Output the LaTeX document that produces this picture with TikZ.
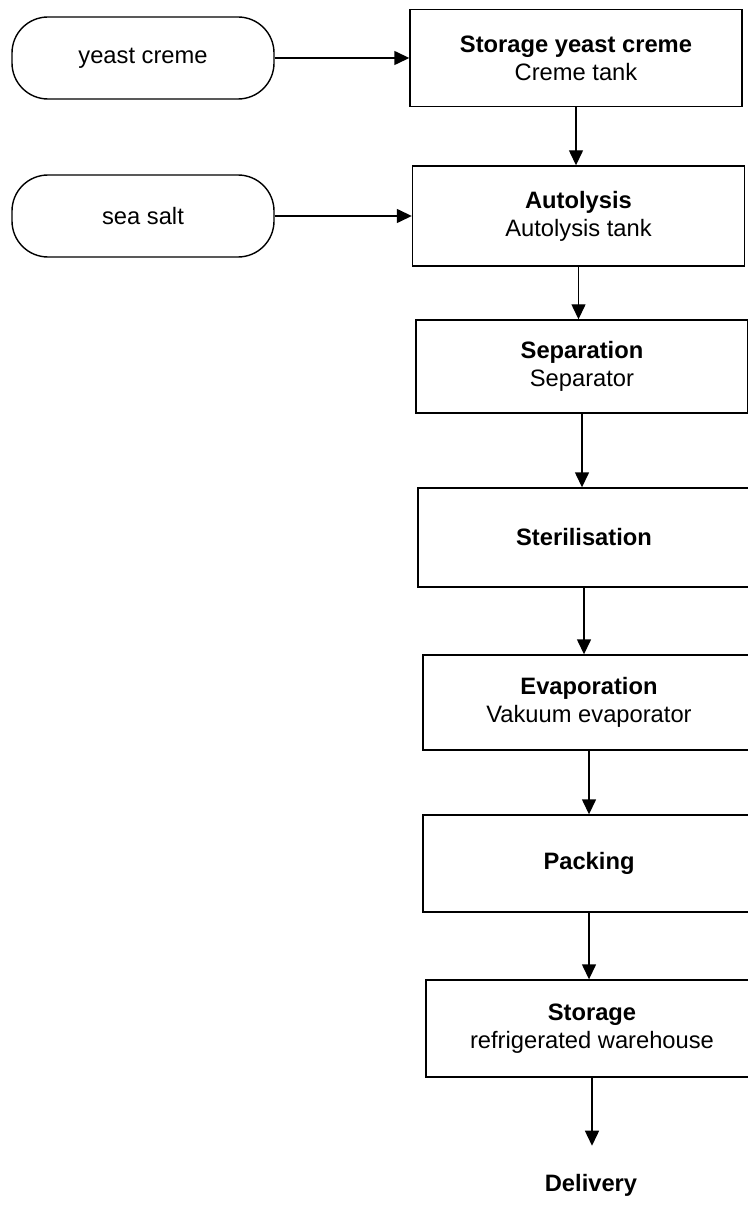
\documentclass[tikz,border=0pt]{standalone}
\usepackage{fontspec}
\setmainfont{Liberation Sans}
\usetikzlibrary{arrows.meta}

\begin{document}
\begin{tikzpicture}
  \clip (0,0) rectangle (14.96,-24.14);
  \tikzset{stepbox/.style={draw,line width=0.8pt,minimum width=6.64cm,minimum height=1.94cm,
                           align=center,font=\fontsize{13.5}{16}\selectfont},
           inpill/.style={draw,line width=0.8pt,rounded corners=0.72cm,minimum width=5.24cm,
                          minimum height=1.64cm,font=\fontsize{13.5}{16}\selectfont},
           flow/.style={line width=0.8pt,-{Triangle[length=0.3cm,width=0.28cm]}}}

 % raw materials
  \node[inpill] (creme) at (2.86,-1.16) {yeast creme};
  \node[inpill] (salt) at (2.86,-4.32) {sea salt};

 % process steps
  \node[stepbox] (storcreme) at (11.52,-1.16) {\textbf{Storage yeast creme}\\Creme tank};
  \node[stepbox,minimum height=2.0cm] (autolysis) at (11.57,-4.32) {\textbf{Autolysis}\\Autolysis tank};
  \node[stepbox,minimum height=1.86cm] (separation) at (11.64,-7.33) {\textbf{Separation}\\Separator};
  \node[stepbox,minimum height=1.98cm] (sterile) at (11.68,-10.75) {\textbf{Sterilisation}};
  \node[stepbox,minimum height=1.9cm] (evapor) at (11.78,-14.05) {\textbf{Evaporation}\\Vakuum evaporator};
  \node[stepbox] (packing) at (11.78,-17.27) {\textbf{Packing}};
  \node[stepbox] (storage) at (11.84,-20.57) {\textbf{Storage}\\refrigerated warehouse};
  \node[font=\fontsize{13.5}{16}\selectfont\bfseries] (delivery) at (11.82,-23.7) {Delivery};

 % flow
  \draw[flow] (creme) -- (storcreme);
  \draw[flow] (salt) -- (autolysis);
  \draw[flow] (storcreme.south) -- (storcreme.south |- autolysis.north);
  \draw[flow] (autolysis.south) -- (autolysis.south |- separation.north);
  \draw[flow] (separation.south) -- (separation.south |- sterile.north);
  \draw[flow] (sterile.south) -- (sterile.south |- evapor.north);
  \draw[flow] (evapor.south) -- (evapor.south |- packing.north);
  \draw[flow] (packing.south) -- (packing.south |- storage.north);
  \draw[flow, shorten >=0.44cm] (storage.south) -- (storage.south |- delivery.north);
\end{tikzpicture}
\end{document}
